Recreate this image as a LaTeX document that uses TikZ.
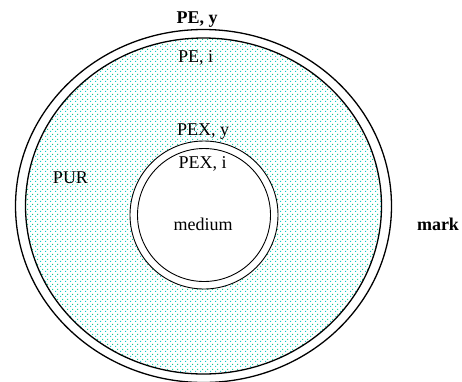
\documentclass[tikz,border=0pt]{standalone}
\usepackage{fontspec}
\setmainfont{Liberation Serif}
\usetikzlibrary{patterns,positioning}
\definecolor{purcyan}{RGB}{20,205,205}
\definecolor{purgreen}{RGB}{20,200,140}
% two-tone dot pattern of the PUR foam
\pgfdeclarepatterninherentlycolored{purfoam}{\pgfqpoint{0pt}{0pt}}{\pgfqpoint{5pt}{5pt}}{\pgfqpoint{5pt}{5pt}}{%
  \pgfsetfillcolor{purcyan}
  \pgfpathrectangle{\pgfqpoint{0pt}{0pt}}{\pgfqpoint{1.3pt}{1.3pt}}
  \pgfusepath{fill}
  \pgfsetfillcolor{purgreen}
  \pgfpathrectangle{\pgfqpoint{2.5pt}{2.5pt}}{\pgfqpoint{1.3pt}{1.3pt}}
  \pgfusepath{fill}
}

\begin{document}
\begin{tikzpicture}[
  x=1pt, y=-1pt,
  every node/.style={font=\fontsize{18}{20}\selectfont},
  lbl/.style={inner sep=0pt, anchor=base},
  bigline/.style={draw=black, line width=1.3pt},
  smallline/.style={draw=black, line width=0.9pt},
]
  \useasboundingbox (0,0) rectangle (462,381);
  \clip (0,0) rectangle (462,381);
  % PUR layer: dotted ring between PE, i and PEX, y
  \fill[pattern=purfoam, even odd rule]
    (203.5,206) ellipse [x radius=178, y radius=168]
    (204,215) ellipse [x radius=74, y radius=74];
  % PE pipe walls
  \draw[bigline] (203.5,206) ellipse [x radius=188, y radius=176.5];
  \draw[bigline] (203.5,206) ellipse [x radius=178, y radius=168];
  % PEX pipe walls
  \draw[smallline] (204,215) ellipse [x radius=74, y radius=74];
  \draw[smallline] (204,215) ellipse [x radius=66.5, y radius=66.5];
  % labels
  \node[lbl, font=\fontsize{18}{20}\selectfont\bfseries] (pey) at (197,23) {PE, y};
  \node[lbl] (pei) at (195.5,62) {PE, i};
  \node[lbl] (pur) at (70.5,183) {PUR};
  \node[lbl] (pexy) at (203,135) {PEX, y};
  \node[lbl] (pexi) at (202.5,168) {PEX, i};
  \node[lbl] (medium) at (203,230) {medium};
  \node[lbl, font=\fontsize{18}{20}\selectfont\bfseries] (mark) at (438,230) {mark};
\end{tikzpicture}
\end{document}
